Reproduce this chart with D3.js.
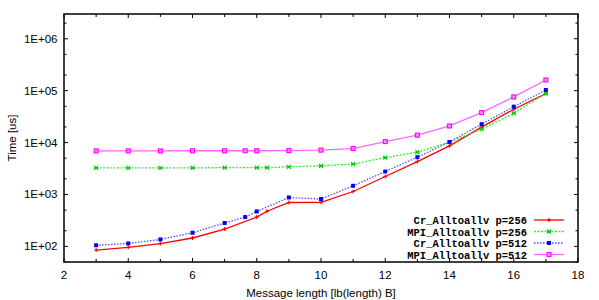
<!DOCTYPE html>
<html><head><meta charset="utf-8">
<script src="https://cdn.jsdelivr.net/npm/d3@7"></script>
<style>body{margin:0;background:#fff}svg{display:block}</style>
</head><body><svg id="c" width="599" height="300"></svg>
<script>
const seriesNames = ["Cr_Alltoallv p=256","MPI_Alltoallv p=256","Cr_Alltoallv p=512","MPI_Alltoallv p=512"];
const xCr256 = [3,4,5,6,7,8,8.32,9,10,11,12,13,14,15,16,17];
const yCr256 = [85,96,113,145,216,367,475,700,705,1140,2220,4310,8650,19800,43800,88000];
const xMpi256 = [3,4,5,6,7,8,8.32,9,10,11,12,13,14,15,16,17];
const yMpi256 = [3260,3260,3260,3260,3280,3280,3280,3410,3560,3850,5150,6530,10200,18100,36700,89000];
const xCr512 = [3,4,5,6,7,7.64,8,9,10,11,12,13,14,15,16,17];
const yCr512 = [105,114,136,183,282,367,471,875,817,1470,2770,5230,10300,22600,49200,103000];
const xMpi512 = [3,4,5,6,7,7.64,8,9,10,11,12,13,14,15,16,17];
const yMpi512 = [6900,6900,6900,6950,6950,6950,6950,7000,7150,7670,10450,13900,20900,37800,75700,160700];
const xTicks = [2,4,6,8,10,12,14,16,18];
const yTicks = [100,1000,10000,100000,1000000];
const yTickLabels = ["1E+02","1E+03","1E+04","1E+05","1E+06"];
const xLabel = "Message length [lb(length) B]";
const yLabel = "Time [us]";

const svg = d3.select("#c");
const L=64,R=578,T=14,B=262;
const x = d3.scaleLinear().domain([2,18]).range([L,R]);
const y = d3.scaleLog().domain([50,3e6]).range([B,T]);

// ticks
const g = svg.append("g").attr("stroke","#000").attr("stroke-width",1);
const minorX = d3.range(2,19,1);
minorX.forEach(v=>{
  const len = (v%2===0)?4:3;
  g.append("line").attr("x1",x(v)).attr("x2",x(v)).attr("y1",B).attr("y2",B-len);
  g.append("line").attr("x1",x(v)).attr("x2",x(v)).attr("y1",T).attr("y2",T+len);
});
const minorY=[];
for(let e=1;e<=6;e++){[2,5].forEach(m=>{const v=m*Math.pow(10,e); if(v>=50&&v<=3e6) minorY.push(v);});}
yTicks.forEach(v=>{
  g.append("line").attr("x1",L).attr("x2",L+4).attr("y1",y(v)).attr("y2",y(v));
  g.append("line").attr("x1",R).attr("x2",R-4).attr("y1",y(v)).attr("y2",y(v));
});
minorY.forEach(v=>{
  g.append("line").attr("x1",L).attr("x2",L+2.5).attr("y1",y(v)).attr("y2",y(v));
  g.append("line").attr("x1",R).attr("x2",R-2.5).attr("y1",y(v)).attr("y2",y(v));
});

// tick labels
const font = "'Liberation Sans', Arial, sans-serif";
svg.append("g").selectAll("text").data(xTicks).join("text")
  .attr("x",d=>x(d)).attr("y",279).attr("text-anchor","middle")
  .attr("font-family",font).attr("font-size",11.5).text(d=>d);
svg.append("g").selectAll("text").data(yTicks).join("text")
  .attr("x",57.5).attr("y",d=>y(d)+4).attr("text-anchor","end")
  .attr("font-family",font).attr("font-size",11.5).text((d,i)=>yTickLabels[i]);
svg.append("text").attr("x",321).attr("y",297).attr("text-anchor","middle")
  .attr("font-family",font).attr("font-size",11.5).text(xLabel);
svg.append("text").attr("transform","translate(16,138) rotate(-90)").attr("text-anchor","middle")
  .attr("font-family",font).attr("font-size",11.5).text(yLabel);

// series
const series = [
  {xs:xCr256, ys:yCr256, color:"#ff0000", line:"#ff0000", dash:null, w:1.3, mk:"plus"},
  {xs:xMpi256, ys:yMpi256, color:"#00cc00", line:"#33ee33", dash:"2,1.5", w:1.3, mk:"x"},
  {xs:xCr512, ys:yCr512, color:"#0000ff", line:"#4f4fff", dash:"1.5,1.5", w:1.3, mk:"fsq"},
  {xs:xMpi512, ys:yMpi512, color:"#ff00ff", line:"#ff66ff", dash:null, w:1.3, mk:"osq"}
];
const lineGen = d3.line().x(d=>x(d[0])).y(d=>y(d[1]));
function marker(gg, px, py, s){
  if(s.mk==="plus"){
    gg.append("path").attr("d",`M${px-2},${py}H${px+2}M${px},${py-2}V${py+2}`).attr("stroke",s.color).attr("stroke-width",1.1).attr("fill","none");
  } else if(s.mk==="x"){
    gg.append("path").attr("d",`M${px-2},${py-2}L${px+2},${py+2}M${px-2},${py+2}L${px+2},${py-2}M${px-2},${py}H${px+2}`).attr("stroke",s.color).attr("stroke-width",1.1).attr("fill","none");
  } else if(s.mk==="fsq"){
    gg.append("rect").attr("x",px-2).attr("y",py-2).attr("width",4).attr("height",4).attr("fill",s.color);
  } else {
    gg.append("rect").attr("x",px-2).attr("y",py-2).attr("width",4).attr("height",4).attr("fill","#ff88ff").attr("stroke",s.color).attr("stroke-width",1.1);
  }
}
series.forEach(s=>{
  const pts = s.xs.map((v,i)=>[v,s.ys[i]]);
  const gg = svg.append("g");
  gg.append("path").attr("d",lineGen(pts)).attr("fill","none").attr("stroke",s.line)
    .attr("stroke-width",s.w).attr("stroke-dasharray",s.dash);
  pts.forEach(p=>marker(gg,x(p[0]),y(p[1]),s));
});

// border
svg.append("rect").attr("x",L).attr("y",T).attr("width",R-L).attr("height",B-T)
  .attr("fill","none").attr("stroke","#000").attr("stroke-width",1.5);

// legend
const legY = [220,231.5,243,254.5];
const lg = svg.append("g");
series.forEach((s,i)=>{
  lg.append("text").attr("x",527).attr("y",legY[i]+4).attr("text-anchor","end")
    .attr("font-family","'Liberation Mono', 'Courier New', monospace").attr("font-weight","bold")
    .attr("font-size",10.5).text(seriesNames[i]);
  lg.append("line").attr("x1",534).attr("x2",564).attr("y1",legY[i]).attr("y2",legY[i])
    .attr("stroke",s.line).attr("stroke-width",s.w).attr("stroke-dasharray",s.dash);
  marker(lg,549,legY[i],s);
});
</script></body></html>
